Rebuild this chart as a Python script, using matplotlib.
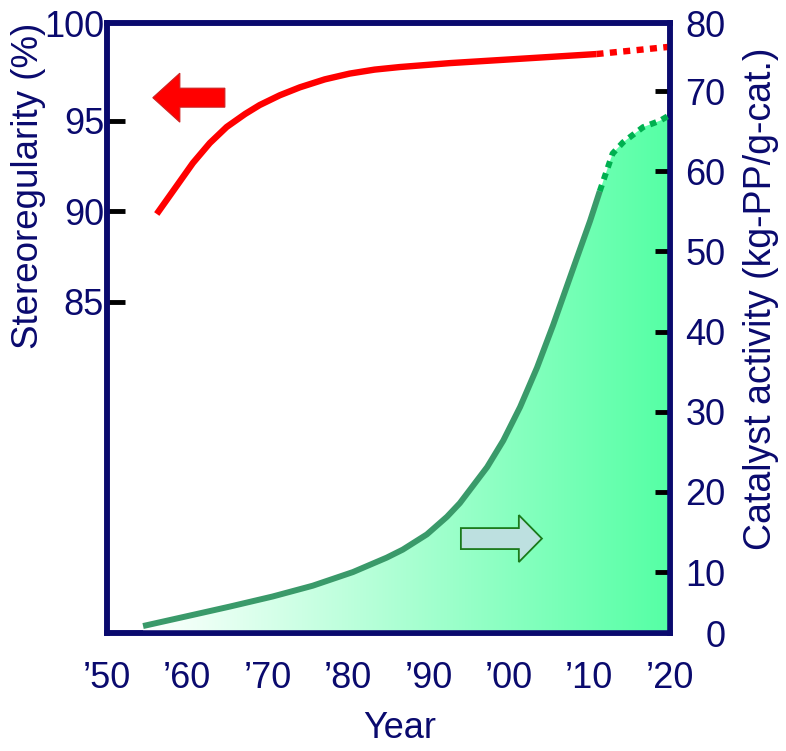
import numpy as np
import matplotlib
matplotlib.use('Agg')
import matplotlib.pyplot as plt
from matplotlib.colors import LinearSegmentedColormap
from matplotlib.patches import FancyArrow

plt.rcParams['font.family'] = ['Liberation Sans', 'DejaVu Sans']

NAVY = '#0a0a6e'

# ---- data ----
stereo_years = [1956.2, 1958.5, 1960.7, 1962.8, 1964.9, 1967.2, 1969.0, 1971.5, 1974.0,
                1977.1, 1980.2, 1983.3, 1986.4, 1992.7, 1998.9, 2005.1, 2010.9]
stereo_vals = [89.86, 91.30, 92.68, 93.78, 94.67, 95.39, 95.88, 96.42, 96.86,
               97.30, 97.62, 97.84, 97.98, 98.20, 98.37, 98.54, 98.70]
stereo_proj_years = [2010.9, 2015.5, 2020.0]
stereo_proj_vals = [98.70, 98.90, 99.10]

act_years = [1954.5, 1960.6, 1965.3, 1970.6, 1975.6, 1980.6, 1984.8, 1986.8, 1989.8,
             1992.3, 1993.9, 1997.3, 1999.3, 2001.4, 2003.5, 2005.5, 2006.7, 2008.5,
             2010.1, 2011.3]
act_vals = [3.27, 4.64, 5.7, 6.95, 8.3, 10.0, 11.8, 12.8, 14.7,
            16.9, 18.6, 23.1, 26.4, 30.6, 35.5, 40.8, 44.2, 49.3,
            53.8, 57.5]
act_proj_years = [2011.3, 2012.9, 2014.2, 2016.7, 2018.8, 2020.0]
act_proj_vals = [57.5, 62.2, 63.6, 65.5, 66.3, 67.0]

x_ticks = [1950, 1960, 1970, 1980, 1990, 2000, 2010, 2020]
x_labels = ['\u201950', '\u201960', '\u201970', '\u201980', '\u201990', '\u201900', '\u201910', '\u201920']
left_lim = (66.7, 100.4)
left_ticks = [85, 90, 95, 100.4]
left_labels = ['85', '90', '95', '100']
right_lim = (2.39, 78.45)
right_ticks = [2.39, 10, 20, 30, 40, 50, 60, 70, 78.45]
right_labels = ['0', '10', '20', '30', '40', '50', '60', '70', '80']

fig = plt.figure(figsize=(7.86, 7.51), dpi=100)
ax = fig.add_axes([0.136, 0.157, 0.716, 0.812])
ax2 = ax.twinx()

# red stereoregularity
ax.plot(stereo_years, stereo_vals, color='#ff0000', lw=4.6, solid_capstyle='butt',
        solid_joinstyle='round', zorder=3)
ax.plot(stereo_proj_years, stereo_proj_vals, color='#ff0000', lw=4.6,
        linestyle=(0, (1.1, 1.0)), zorder=3)

# green activity with gradient fill
fx = act_years + act_proj_years[1:]
fy = act_vals + act_proj_vals[1:]
poly = ax2.fill_between(fx, fy, right_lim[0], color='none', lw=0)
cmap = LinearSegmentedColormap.from_list('g', ['#ffffff', '#55ffa5'])
grad = ax2.imshow(np.linspace(0, 1, 256)[None, :], cmap=cmap,
                  extent=[fx[0], 2020, right_lim[0], right_lim[1]],
                  aspect='auto', origin='lower', zorder=1)
grad.set_clip_path(poly.get_paths()[0], transform=ax2.transData)
ax2.plot(act_years, act_vals, color='#3a9a6a', lw=4.3, solid_capstyle='butt',
         solid_joinstyle='round', zorder=3)
ax2.plot(act_proj_years, act_proj_vals, color='#00b050', lw=4.3,
         linestyle=(0, (1.1, 1.0)), zorder=3)

# arrows
ax2.add_patch(FancyArrow(0.2096, 0.878, -0.128, 0, width=0.0311, head_width=0.0803,
                         head_length=0.048, length_includes_head=True,
                         transform=ax.transAxes, facecolor='#ff0000', edgecolor='#cc2020',
                         lw=0.8, zorder=4))
ax2.add_patch(FancyArrow(0.629, 0.155, 0.144, 0, width=0.0344, head_width=0.077,
                         head_length=0.041, length_includes_head=True,
                         transform=ax.transAxes, facecolor='#bde0e0', edgecolor='#1a7a1a',
                         lw=1.3, zorder=4))

# axes
ax.set_xlim(1950, 2020)
ax.set_ylim(*left_lim)
ax2.set_ylim(*right_lim)
ax2.set_xlim(1950, 2020)

ax.set_xticks(x_ticks)
ax.set_xticklabels(x_labels)
ax.set_yticks(left_ticks)
ax.set_yticklabels(left_labels)
ax2.set_yticks(right_ticks)
ax2.set_yticklabels(right_labels)

ax.tick_params(axis='x', direction='in', length=13, width=3, color='black',
               labelcolor=NAVY, labelsize=26, pad=20)
ax.tick_params(axis='y', direction='in', length=13, width=3.5, color='black',
               labelcolor=NAVY, labelsize=26, pad=2)
ax2.tick_params(axis='y', direction='in', length=11, width=3.5, color='black',
                labelcolor=NAVY, labelsize=26, pad=40)

for t in [ax.xaxis.get_major_ticks()[0], ax.xaxis.get_major_ticks()[-1]]:
    t.tick1line.set_visible(False)
ax.yaxis.get_major_ticks()[-1].tick1line.set_visible(False)
for t in [ax2.yaxis.get_major_ticks()[0], ax2.yaxis.get_major_ticks()[-1]]:
    t.tick2line.set_visible(False)
for t in ax2.yaxis.get_major_ticks():
    t.label2.set_horizontalalignment('right')

for a in (ax, ax2):
    for s in a.spines.values():
        s.set_color(NAVY)
        s.set_linewidth(4)

ax.text(-0.1385, 0.733, 'Stereoregularity (%)', transform=ax.transAxes, rotation=90,
        ha='center', va='center', fontsize=26.5, color=NAVY)
ax.text(1.163, 0.549, 'Catalyst activity (kg-PP/g-cat.)', transform=ax.transAxes,
        rotation=90, ha='center', va='center', fontsize=27, color=NAVY)
ax.text(0.52, -0.156, 'Year', transform=ax.transAxes, ha='center', va='center',
        fontsize=26, color=NAVY)

fig.savefig('out.png', dpi=100)
